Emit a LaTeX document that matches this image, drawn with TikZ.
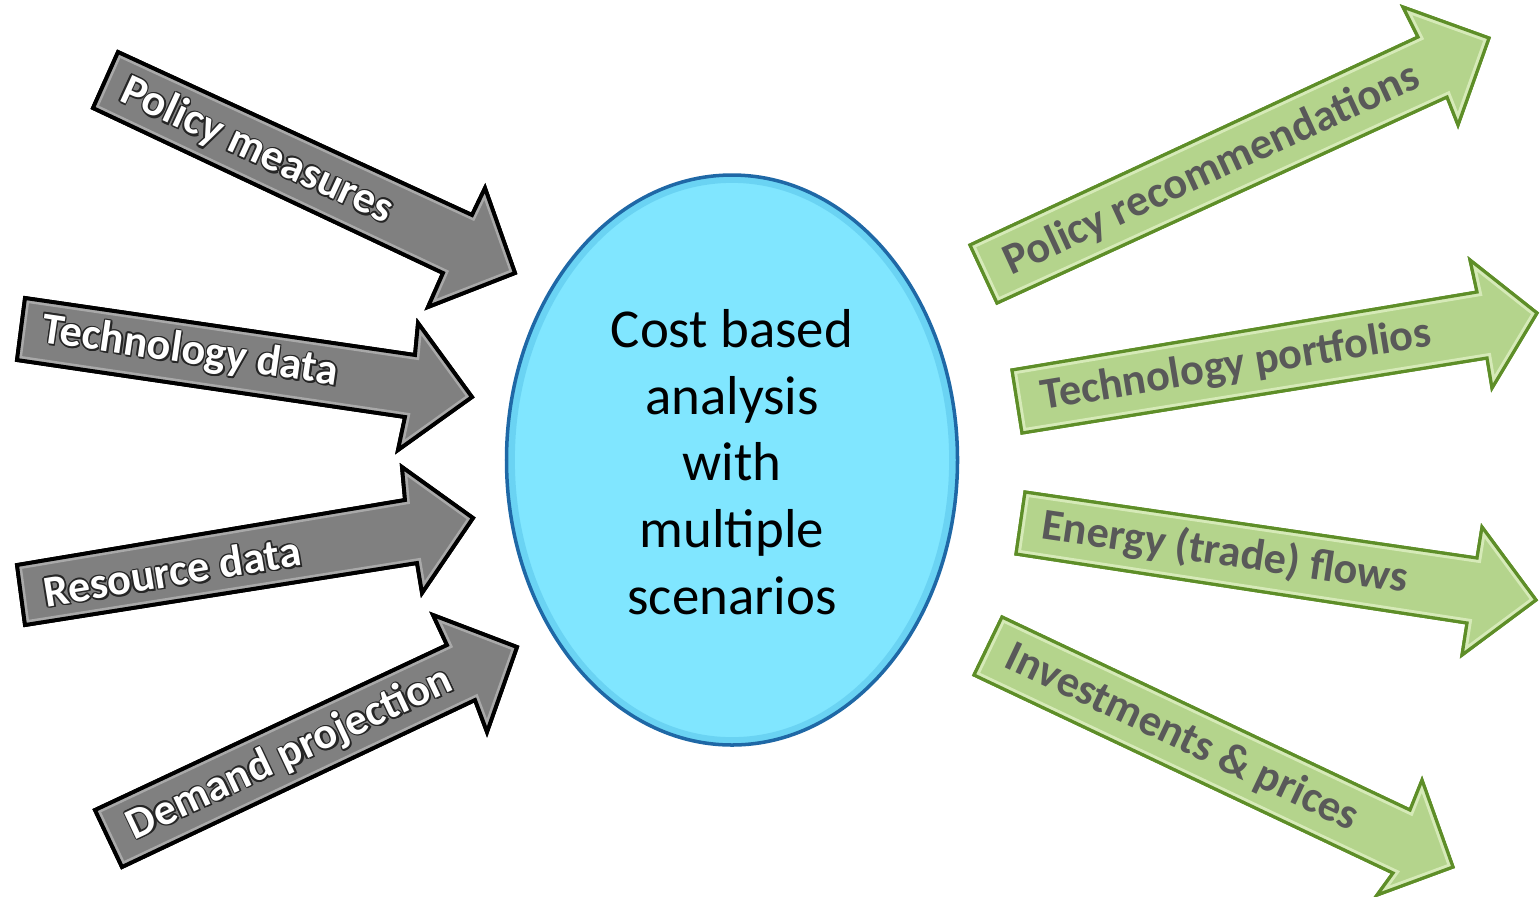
\documentclass[tikz,border=0pt]{standalone}
\usepackage{fontspec}
\setmainfont{Carlito}
\usetikzlibrary{shapes.geometric}

\definecolor{inputfill}{HTML}{808080}
\definecolor{inputbevel}{HTML}{B8B8B8}
\definecolor{outputfill}{HTML}{B4D48C}
\definecolor{outputbevel}{HTML}{E2F2C8}
\definecolor{outputedge}{HTML}{5E8E28}
\definecolor{outputtext}{HTML}{595959}
\definecolor{corefill}{HTML}{80E6FF}
\definecolor{coreedge}{HTML}{1F68A6}
\definecolor{corering}{HTML}{62CCEE}

% block arrow: #1 style, #2 bevel colour, #3 outline points
\newcommand\blockarrow[3]{%
  \fill[#1] #3 -- cycle;
  \begin{scope}
    \clip #3 -- cycle;
    \draw[line width=2.6pt, draw=#2, opacity=0.75, line join=miter] #3 -- cycle;
  \end{scope}
  \draw[#1, fill=none] #3 -- cycle;}

% white label with a dark rim: #1 name, #2 position, #3 angle, #4 text
\newcommand\inlabel[4]{%
  \foreach \dx/\dy in {0.4/0,-0.4/0,0/0.4,0/-0.4,0.3/0.3,0.3/-0.3,-0.3/0.3,-0.3/-0.3,0.5/-0.5}
    \node[arrowlabel, text=black!85, rotate=#3, xshift=\dx pt, yshift=\dy pt] at #2 {#4};
  \node[arrowlabel, text=white, rotate=#3] (#1) at #2 {#4};}

\begin{document}
\begin{tikzpicture}[x=0.1mm, y=-0.1mm,
  inarrow/.style={fill=inputfill, draw=black, line width=1.1pt, line join=miter},
  outarrow/.style={fill=outputfill, draw=outputedge, line width=0.9pt, line join=miter},
  arrowlabel/.style={font=\fontsize{12.6}{15}\selectfont\bfseries, inner sep=0pt},
  outlabel/.style={arrowlabel, text=outputtext},
  core/.style={ellipse, fill=corefill, minimum width=45.1mm, minimum height=57mm, inner sep=0pt},
  coretext/.style={align=center, font=\fontsize{15.6}{19}\selectfont, inner sep=0pt}]

\useasboundingbox (0,0) rectangle (1540,896);

% central analysis ellipse
\node[core] (core) at (732,460) {};
\draw[line width=2.2pt, draw=corering, opacity=0.7] (core.center) ellipse [x radius=221, y radius=281];
\draw[line width=1pt, draw=coreedge] (core.center) ellipse [x radius=225.5, y radius=285];
\node[coretext] (coretext) at (732,462) {Cost based\\analysis\\with\\multiple\\scenarios};

% input arrows (left)
\blockarrow{inarrow}{inputbevel}{(118,52) -- (472,215) -- (485,188) -- (515,273) -- (428,307) -- (443,273) -- (93,108)}
\blockarrow{inarrow}{inputbevel}{(25,298) -- (415,355) -- (418,323) -- (472,397) -- (398,450) -- (405,417) -- (17,360)}
\blockarrow{inarrow}{inputbevel}{(17,565) -- (405,500) -- (402,467) -- (473,518) -- (422,593) -- (417,563) -- (25,625)}
\blockarrow{inarrow}{inputbevel}{(95,810) -- (447,645) -- (433,615) -- (517,647) -- (487,732) -- (475,700) -- (122,867)}

\inlabel{policy}{(257,151)}{-24.7}{Policy measures}
\inlabel{techdata}{(190,352)}{-8.3}{Technology data}
\inlabel{resource}{(172,571)}{9.3}{Resource data}
\inlabel{demand}{(290,754)}{25.2}{Demand projection}

% output arrows (right)
\blockarrow{outarrow}{outputbevel}{(970,245) -- (1418,37) -- (1403,7) -- (1489,38) -- (1458,125) -- (1447,97) -- (997,303)}
\blockarrow{outarrow}{outputbevel}{(1012,370) -- (1477,292) -- (1470,260) -- (1537,313) -- (1492,388) -- (1487,358) -- (1022,433)}
\blockarrow{outarrow}{outputbevel}{(1025,492) -- (1477,558) -- (1482,527) -- (1536,600) -- (1462,655) -- (1467,623) -- (1016,554)}
\blockarrow{outarrow}{outputbevel}{(1002,617) -- (1410,810) -- (1422,780) -- (1453,867) -- (1377,895) -- (1393,873) -- (974,675)}

\node[outlabel, rotate=24.75] (recommend) at (1212,170) {Policy recommendations};
\node[outlabel, rotate=9.3] (portfolio) at (1236,366) {Technology portfolios};
\node[outlabel, rotate=-8.4] (flows) at (1225,553) {Energy (trade) flows};
\node[outlabel, rotate=-25.3] (invest) at (1182,738) {Investments \& prices};
\end{tikzpicture}
\end{document}
